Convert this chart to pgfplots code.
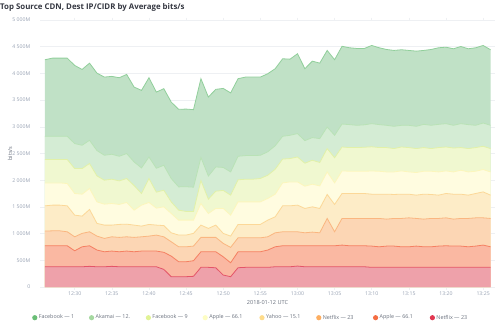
\documentclass[border=0pt]{standalone}
\usepackage{fontspec}
\setmainfont{Open Sans}
\usepackage{pgfplots}
\usepackage{pgfplotstable}
\pgfplotsset{compat=1.18}

\definecolor{f1}{RGB}{192,225,198}
\definecolor{l1}{RGB}{145,207,155}
\definecolor{f2}{RGB}{212,236,212}
\definecolor{l2}{RGB}{185,226,182}
\definecolor{f3}{RGB}{240,248,208}
\definecolor{l3}{RGB}{226,241,168}
\definecolor{f4}{RGB}{255,252,224}
\definecolor{l4}{RGB}{252,246,188}
\definecolor{f5}{RGB}{253,236,199}
\definecolor{l5}{RGB}{252,216,152}
\definecolor{f6}{RGB}{252,214,180}
\definecolor{l6}{RGB}{250,182,128}
\definecolor{f7}{RGB}{250,184,162}
\definecolor{l7}{RGB}{245,128,98}
\definecolor{f8}{RGB}{238,161,170}
\definecolor{l8}{RGB}{228,85,104}
\definecolor{d1}{RGB}{106,190,118}
\definecolor{d2}{RGB}{165,216,160}
\definecolor{d3}{RGB}{225,243,150}
\definecolor{d4}{RGB}{253,253,195}
\definecolor{d5}{RGB}{254,220,140}
\definecolor{d6}{RGB}{253,174,97}
\definecolor{d7}{RGB}{244,109,67}
\definecolor{d8}{RGB}{225,55,80}
\definecolor{tickc}{RGB}{152,162,179}
\definecolor{titlec}{RGB}{52,55,65}
\definecolor{legc}{RGB}{105,112,125}
\definecolor{gridc}{RGB}{238,240,243}

% cumulative stack boundaries (M bits/s): top = all eight series
\pgfplotstableread{
t  top  b7   b6   b5   b4   b3   b2   b1
26 4256 2822 2387 1949 1520 1047 772 379
27 4286 2822 2387 1949 1533 1052 772 379
28 4286 2822 2387 1949 1533 1052 772 379
29 4286 2822 2387 1938 1520 1034 772 379
30 4149 2686 2218 1751 1346 940 678 379
31 4074 2654 2218 1738 1327 1004 753 379
32 4192 2747 2312 1845 1452 1034 772 387
33 4005 2555 2080 1594 1191 953 692 379
34 3931 2467 2000 1551 1159 910 660 379
35 3944 2486 2019 1564 1159 940 673 387
36 3919 2448 1987 1546 1172 929 660 379
37 3981 2499 2032 1583 1177 940 673 379
38 3744 2342 1900 1439 1159 929 660 379
39 3682 2230 1751 1533 1140 940 673 379
40 3919 2435 2032 1583 1172 953 673 379
41 3650 2224 1776 1477 1159 972 673 379
42 3714 2280 1813 1501 1150 940 650 330
43 3463 2032 1594 1377 1015 847 579 193
44 3327 1875 1439 1252 972 753 473 193
45 3332 1878 1415 1252 972 753 473 193
46 3321 1869 1415 1252 1004 766 492 200
47 3901 2426 1994 1564 1159 929 660 368
48 3557 2078 1645 1377 1097 929 660 368
49 3701 2248 1794 1471 1159 929 660 360
50 3719 2239 1809 1471 1004 817 566 224
51 3635 2155 1720 1346 953 742 454 193
52 3901 2448 2007 1594 1172 921 660 361
53 3931 2461 2019 1594 1172 921 660 368
54 3931 2461 2019 1594 1172 921 660 368
55 3931 2467 2032 1594 1172 921 660 368
56 3994 2532 2093 1658 1252 940 692 368
57 4088 2645 2205 1738 1314 1015 753 379
58 4274 2822 2396 1949 1520 1034 772 379
59 4267 2841 2405 1968 1520 1034 772 379
60 4368 2873 2435 1968 1533 1034 772 392
61 4088 2742 2318 1888 1471 1015 772 379
62 4230 2798 2374 1925 1501 1028 772 379
63 4192 2779 2331 1893 1471 1015 772 379
64 4430 2996 2592 2155 1733 1284 772 379
65 4256 2841 2420 1949 1546 1034 772 379
66 4508 3052 2622 2174 1751 1284 785 379
67 4480 3041 2611 2168 1751 1284 772 379
68 4467 3028 2611 2168 1751 1284 772 379
69 4467 3037 2617 2168 1751 1284 772 379
70 4523 3059 2626 2172 1738 1284 766 368
71 4480 3041 2611 2168 1738 1284 753 368
72 4448 3028 2611 2155 1738 1271 766 368
73 4430 3009 2592 2155 1733 1284 766 368
74 4443 3028 2622 2174 1738 1284 753 368
75 4430 3028 2611 2155 1738 1295 753 368
76 4417 3009 2592 2144 1720 1284 766 368
77 4430 3046 2611 2168 1738 1271 753 368
78 4448 3028 2592 2168 1733 1284 753 368
79 4480 3046 2611 2155 1720 1284 766 368
80 4491 3059 2622 2174 1751 1295 772 368
81 4461 3028 2603 2155 1738 1271 766 368
82 4504 3059 2611 2187 1738 1284 766 368
83 4461 3041 2592 2155 1720 1284 753 368
84 4480 3028 2611 2168 1751 1295 766 368
85 4523 3071 2635 2200 1781 1295 785 368
86 4443 3028 2592 2155 1720 1284 753 368
}\data

\begin{document}
\begin{tikzpicture}
\useasboundingbox (-40bp,-41bp) rectangle (460bp,287bp);
\node[anchor=west, inner sep=0pt, text=titlec, font=\fontsize{7.9}{9}\selectfont\bfseries] at (-40bp,280bp) {Top Source CDN, Dest IP/CIDR by Average bits/s};
\begin{axis}[
  at={(0,0)}, anchor=south west,
  scale only axis, width=455bp, height=267bp,
  xmin=25.33, xmax=86.6, ymin=0, ymax=5000,
  axis line style={draw=none},
  ymajorgrids, grid style={color=gridc, line width=0.6pt},
  ytick={0,500,...,5000},
  yticklabels={0,500M,1 000M,1 500M,2 000M,2 500M,3 000M,3 500M,4 000M,4 500M,5 000M},
  ytick style={draw=none},
  yticklabel style={font=\fontsize{5.2}{6}\selectfont, text=tickc, inner sep=0pt, xshift=-7bp},
  xtick={30,35,...,85},
  xticklabels={12:30,12:35,12:40,12:45,12:50,12:55,13:00,13:05,13:10,13:15,13:20,13:25},
  xtick style={draw=gridc, line width=0.6pt},
  tick align=outside, major tick length=2.5bp,
  xticklabel style={font=\fontsize{5.2}{6}\selectfont, text=tickc, inner sep=0pt, yshift=-2.5bp},
  xlabel={2018-01-12 UTC},
  xlabel style={font=\fontsize{5.6}{6}\selectfont, text=legc, inner sep=0pt, at={(0.5,0)}, anchor=center, yshift=-15.7bp},
  ylabel={bits/s},
  ylabel style={font=\fontsize{5.6}{6}\selectfont, text=legc, inner sep=0pt, at={(-0.0659,0.5)}, anchor=center},
  legend columns=8,
  legend style={at={(0,0)}, anchor=west, xshift=-8bp, yshift=-30.7bp, draw=none, fill=none, inner sep=0pt,
    font=\fontsize{5.4}{6}\selectfont, text=legc, column sep=0pt,
    nodes={inner sep=1.5bp}},
  legend image code/.code={\fill[#1] (2.6bp,0bp) circle (2.6bp);},
]
\addplot[forget plot, fill=f1, draw=none] table[x=t,y=top]{\data} \closedcycle;
\addplot[forget plot, l1, line width=0.8pt] table[x=t,y=top]{\data};
\addplot[forget plot, fill=f2, draw=none] table[x=t,y=b7]{\data} \closedcycle;
\addplot[forget plot, l2, line width=0.8pt] table[x=t,y=b7]{\data};
\addplot[forget plot, fill=f3, draw=none] table[x=t,y=b6]{\data} \closedcycle;
\addplot[forget plot, l3, line width=0.8pt] table[x=t,y=b6]{\data};
\addplot[forget plot, fill=f4, draw=none] table[x=t,y=b5]{\data} \closedcycle;
\addplot[forget plot, l4, line width=0.8pt] table[x=t,y=b5]{\data};
\addplot[forget plot, fill=f5, draw=none] table[x=t,y=b4]{\data} \closedcycle;
\addplot[forget plot, l5, line width=0.8pt] table[x=t,y=b4]{\data};
\addplot[forget plot, fill=f6, draw=none] table[x=t,y=b3]{\data} \closedcycle;
\addplot[forget plot, l6, line width=0.8pt] table[x=t,y=b3]{\data};
\addplot[forget plot, fill=f7, draw=none] table[x=t,y=b2]{\data} \closedcycle;
\addplot[forget plot, l7, line width=0.8pt] table[x=t,y=b2]{\data};
\addplot[forget plot, fill=f8, draw=none] table[x=t,y=b1]{\data} \closedcycle;
\addplot[forget plot, l8, line width=0.8pt] table[x=t,y=b1]{\data};
\addlegendimage{fill=d1, draw=none}
\addlegendentry{\makebox[48.6bp][l]{Facebook — 1}}
\addlegendimage{fill=d2, draw=none}
\addlegendentry{\makebox[48.6bp][l]{Akamai — 12.}}
\addlegendimage{fill=d3, draw=none}
\addlegendentry{\makebox[48.6bp][l]{Facebook — 9}}
\addlegendimage{fill=d4, draw=none}
\addlegendentry{\makebox[48.6bp][l]{Apple — 66.1}}
\addlegendimage{fill=d5, draw=none}
\addlegendentry{\makebox[48.6bp][l]{Yahoo — 15.1}}
\addlegendimage{fill=d6, draw=none}
\addlegendentry{\makebox[48.6bp][l]{Netflix — 23}}
\addlegendimage{fill=d7, draw=none}
\addlegendentry{\makebox[48.6bp][l]{Apple — 66.1}}
\addlegendimage{fill=d8, draw=none}
\addlegendentry{\makebox[48.6bp][l]{Netflix — 23}}
\end{axis}
\end{tikzpicture}
\end{document}
